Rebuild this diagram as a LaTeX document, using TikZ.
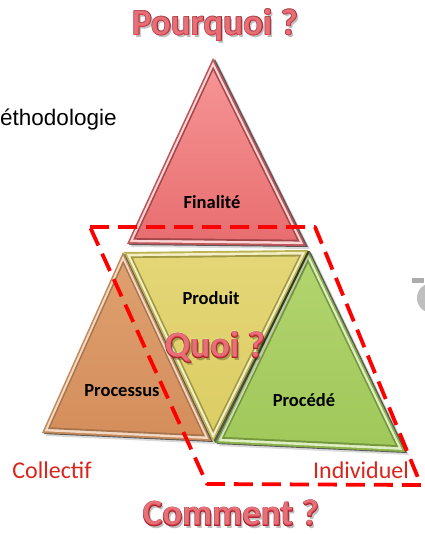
\documentclass[tikz,border=0pt]{standalone}
\usepackage{fontspec}
\setmainfont{Carlito}
\newfontfamily\arialfont{Liberation Sans}
\usetikzlibrary{calc}
\definecolor{titlered}{RGB}{224,72,82}
\definecolor{titledark}{RGB}{165,35,45}
\definecolor{labred}{RGB}{218,37,29}
\definecolor{dashred}{RGB}{255,0,0}
% red triangle
\definecolor{rBord}{RGB}{192,84,88}
\definecolor{rTop}{RGB}{246,148,148}
\definecolor{rBot}{RGB}{232,110,112}
% yellow
\definecolor{yBord}{RGB}{188,180,78}
\definecolor{yTop}{RGB}{228,214,118}
\definecolor{yBot}{RGB}{220,205,100}
% orange
\definecolor{oBord}{RGB}{196,136,88}
\definecolor{oTop}{RGB}{222,160,110}
\definecolor{oBot}{RGB}{212,142,92}
% green
\definecolor{gBord}{RGB}{138,178,72}
\definecolor{gTop}{RGB}{178,212,110}
\definecolor{gBot}{RGB}{160,200,90}
\tikzset{
  bigtitle/.style={font=\fontsize{37}{40}\selectfont\bfseries, inner sep=0pt},
  tlabel/.style={font=\fontsize{18.5}{20}\selectfont\bfseries, text=black, inner sep=0pt},
  sidelabel/.style={font=\fontsize{24}{26}\selectfont, text=labred, inner sep=0pt},
  dashframe/.style={draw=dashred, line width=3.8pt, dash pattern=on 19pt off 9pt, line join=round},
}
% beveled triangle: #1 prefix, #2 border, #3 top, #4 bottom, #5 highlight colour
\newcommand\bevtri[5]{%
  \coordinate (#1c) at (barycentric cs:#1A=1,#1B=1,#1C=1);
  \fill[black,opacity=0.15] ($(#1A)+(4,3)$) -- ($(#1B)+(4,3)$) -- ($(#1C)+(4,3)$) -- cycle;
  \fill[black,opacity=0.6] ($(#1A)+(2,1)$) -- ($(#1B)+(2,1)$) -- ($(#1C)+(2,1)$) -- cycle;
  \fill[#2] (#1A) -- (#1B) -- (#1C) -- cycle;
  \fill[#5] ($(#1c)!0.97!(#1A)$) -- ($(#1c)!0.97!(#1B)$) -- ($(#1c)!0.97!(#1C)$) -- cycle;
  \fill[#2!85!black] ($(#1c)!0.93!(#1A)$) -- ($(#1c)!0.93!(#1B)$) -- ($(#1c)!0.93!(#1C)$) -- cycle;
  \shade[top color=#3, bottom color=#4] ($(#1c)!0.9!(#1A)$) -- ($(#1c)!0.9!(#1B)$) -- ($(#1c)!0.9!(#1C)$) -- cycle;
}
\newcommand\fxtitle[3]{% name, position, text
  \node[bigtitle, text=black, opacity=0.25] (#1s) at ($(#2)+(2,2.5)$) {#3};
  \node[bigtitle, text=titledark] (#1o1) at ($(#2)+(0.6,0.6)$) {#3};
  \node[bigtitle, text=titledark] (#1o2) at ($(#2)+(-0.6,-0.6)$) {#3};
  \node[bigtitle, text=titledark] (#1o3) at ($(#2)+(0.6,-0.6)$) {#3};
  \node[bigtitle, text=titledark] (#1o4) at ($(#2)+(-0.6,0.6)$) {#3};
  \node[bigtitle, text=titlered] (#1) at (#2) {#3};
  \node[bigtitle, text=white, opacity=0.22] (#1h) at ($(#2)+(-0.5,-0.7)$) {#3};
}
\begin{document}
\begin{tikzpicture}[x=1pt,y=-1pt]
\useasboundingbox (0,0) rectangle (424,534);
\fill[white] (0,0) rectangle (424,534);

% vertices
\coordinate (RA) at (213,58);  \coordinate (RB) at (127,244); \coordinate (RC) at (306,246);
\coordinate (YA) at (124,252); \coordinate (YB) at (308,250); \coordinate (YC) at (213,442);
\coordinate (OA) at (123,252); \coordinate (OB) at (42,433);  \coordinate (OC) at (211,441);
\coordinate (GA) at (308,250); \coordinate (GB) at (215,443); \coordinate (GC) at (405,452);

\bevtri{O}{oBord}{oTop}{oBot}{white!60!oTop}
\bevtri{G}{gBord}{gTop}{gBot}{white!60!gTop}
\bevtri{Y}{yBord}{yTop}{yBot}{white!60!yTop}
\bevtri{R}{rBord}{rTop}{rBot}{white!60!rTop}

% cropped text at left and cropped glyph at right
\node[font=\arialfont\fontsize{22.5}{24}\selectfont, anchor=base west, inner sep=0pt] (meth) at (0,126) {éthodologie};
\fill[gray!65] (412,278) rectangle (424,283);
\fill[gray!50] (429,298) ellipse (12 and 14);

% triangle labels
\node[tlabel] (fin) at (212,202) {Finalité};
\node[tlabel] (prod) at (211,298) {Produit};
\node[tlabel] (proc) at (122,391) {Processus};
\node[tlabel] (procd) at (304,400) {Procédé};

% dashed frame
\coordinate (D1) at (90,227);
\coordinate (D2) at (315,227);
\coordinate (D3) at (421,485);
\coordinate (D4) at (207,484);
\draw[dashframe] (D1) -- (D2) -- (D3) -- (D4) -- cycle;

% titles
\fxtitle{pq}{215,25}{Pourquoi ?}
\fxtitle{qu}{215,347}{Quoi ?}
\fxtitle{co}{231,513}{Comment ?}

% side labels
\node[sidelabel] (coll) at (52,470) {Collectif};
\node[sidelabel] (indiv) at (361,470) {Individuel};
\end{tikzpicture}
\end{document}
